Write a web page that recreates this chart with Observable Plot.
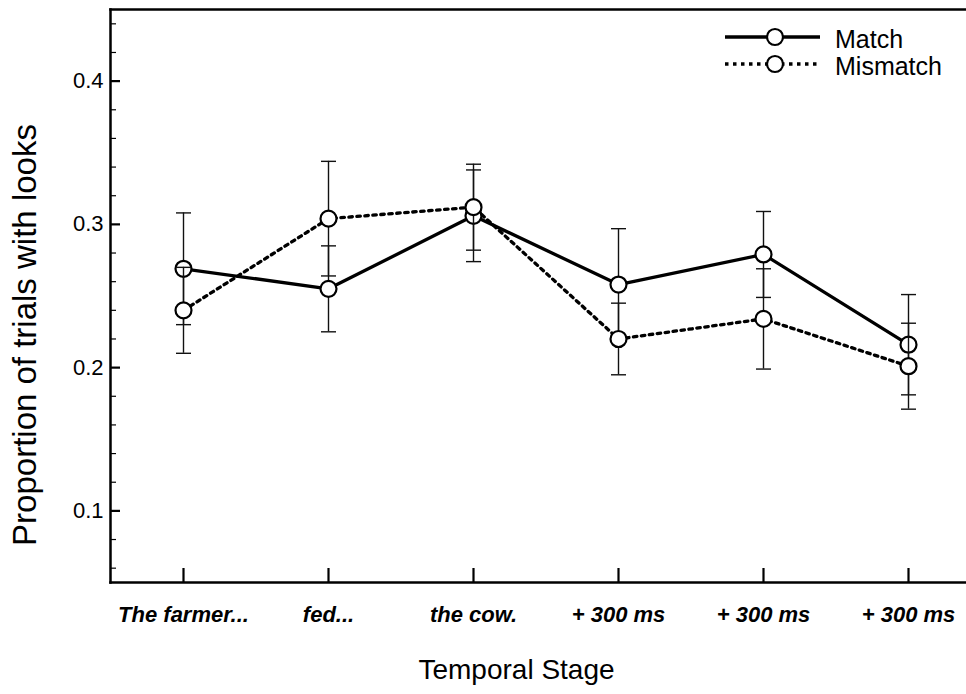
<!DOCTYPE html>
<html>
<head>
<meta charset="utf-8">
<script src="https://cdn.jsdelivr.net/npm/d3@7"></script>
<script src="https://cdn.jsdelivr.net/npm/@observablehq/plot@0.6"></script>
<style>
  body { margin: 0; background: #fff; }
  #wrap { position: relative; width: 966px; height: 694px; font-family: "Liberation Sans", Arial, Helvetica, sans-serif; }
  #legend { position: absolute; left: 720px; top: 20px; }
</style>
</head>
<body>
<div id="wrap"></div>
<script>
// ---- data ----
const stages = ["The farmer...", "fed...", "the cow.", "+ 300 ms", "+ 300 ms", "+ 300 ms"];
const seriesNames = ["Match", "Mismatch"];
const matchMeans = [0.269, 0.255, 0.306, 0.258, 0.279, 0.216];
const matchErrors = [0.039, 0.030, 0.032, 0.039, 0.030, 0.035];
const mismatchMeans = [0.240, 0.304, 0.312, 0.220, 0.234, 0.201];
const mismatchErrors = [0.030, 0.040, 0.030, 0.025, 0.035, 0.030];
const yMajorTicks = [0.1, 0.2, 0.3, 0.4];
const yMinorTicks = [0.06, 0.08, 0.12, 0.14, 0.16, 0.18, 0.22, 0.24, 0.26, 0.28, 0.32, 0.34, 0.36, 0.38, 0.42, 0.44];
const yDomain = [0.05, 0.45];
const xTitle = "Temporal Stage";
const yTitle = "Proportion of trials with looks";

// ---- build ----
const stageIndex = stages.map((_, i) => i);
const toRows = (means, errs, series) =>
  means.map((m, i) => ({ stage: i, value: m, lo: m - errs[i], hi: m + errs[i], series }));
const matchRows = toRows(matchMeans, matchErrors, seriesNames[0]);
const mismatchRows = toRows(mismatchMeans, mismatchErrors, seriesNames[1]);

const FONT = '"Liberation Sans", Arial, Helvetica, sans-serif';
const dotted = "3.5,4.5";

// horizontal-bar symbol for error-bar caps
const capSymbol = {
  draw(context, size) {
    const h = Math.sqrt(size / Math.PI);
    context.moveTo(-h, 0);
    context.lineTo(h, 0);
  }
};

function seriesMarks(rows, dash) {
  return [
    Plot.ruleX(rows, { x: "stage", y1: "lo", y2: "hi", stroke: "#111", strokeWidth: 1.4 }),
    Plot.dot(rows, { x: "stage", y: "lo", symbol: capSymbol, r: 7.5, fill: "none", stroke: "#111", strokeWidth: 1.4 }),
    Plot.dot(rows, { x: "stage", y: "hi", symbol: capSymbol, r: 7.5, fill: "none", stroke: "#111", strokeWidth: 1.4 }),
    Plot.line(rows, { x: "stage", y: "value", stroke: "black", strokeWidth: 3.3, strokeDasharray: dash }),
    Plot.dot(rows, { x: "stage", y: "value", r: 8, fill: "white", stroke: "black", strokeWidth: 2.2 })
  ];
}

const chart = Plot.plot({
  width: 966,
  height: 694,
  marginLeft: 110,
  marginRight: 0,
  marginTop: 9,
  marginBottom: 112,
  style: { fontFamily: FONT, background: "white", color: "black", overflow: "visible" },
  x: { type: "point", domain: stageIndex, range: [182, 909], padding: 0 },
  y: { domain: yDomain },
  marks: [
    Plot.frame({ anchor: "left", strokeWidth: 2.5 }),
    Plot.frame({ anchor: "top", strokeWidth: 2.5 }),
    Plot.frame({ anchor: "bottom", strokeWidth: 2.5 }),
    Plot.axisY(yMinorTicks, { tickSize: 6, dx: 6, tickFormat: () => "", strokeWidth: 1.2, label: null }),
    Plot.axisY(yMajorTicks, { tickSize: 10, dx: 10, tickFormat: () => "", strokeWidth: 2.2, label: null }),
    Plot.axisY(yMajorTicks, { tickSize: 0, tickPadding: 7, tickFormat: d3.format(".1f"), fontSize: 22, label: null }),
    Plot.axisX(stageIndex, { tickSize: 14, dy: -14, strokeWidth: 2.2, tickFormat: () => "", label: null }),
    Plot.axisX(stageIndex, { tickSize: 0, tickPadding: 24, tickFormat: i => stages[i], fontSize: 22, fontWeight: "bold", fontStyle: "italic", label: null }),
    Plot.text([yTitle], { frameAnchor: "left", textAnchor: "middle", rotate: -90, dx: -85, dy: 39, fontSize: 33, fill: "black" }),
    Plot.text([xTitle], { frameAnchor: "bottom", textAnchor: "middle", dx: -22, dy: 96, fontSize: 28, fill: "black" }),
    ...seriesMarks(matchRows, null),
    ...seriesMarks(mismatchRows, dotted)
  ]
});
document.getElementById("wrap").appendChild(chart);

// ---- legend (HTML overlay) ----
const legend = d3.select("#wrap").append("svg")
  .attr("id", "legend").attr("width", 246).attr("height", 70);
seriesNames.forEach((name, i) => {
  const g = legend.append("g").attr("transform", `translate(0, ${17 + 27 * i})`);
  g.append("line").attr("x1", 5).attr("x2", 100).attr("y1", 0).attr("y2", 0)
    .attr("stroke", "black").attr("stroke-width", 3.3)
    .attr("stroke-dasharray", i === 0 ? null : dotted);
  g.append("circle").attr("cx", 55).attr("cy", 0).attr("r", 8)
    .attr("fill", "white").attr("stroke", "black").attr("stroke-width", 2.2);
  g.append("text").attr("x", 115).attr("y", 11).attr("font-size", 25)
    .attr("font-family", FONT).text(name);
});
</script>
</body>
</html>
